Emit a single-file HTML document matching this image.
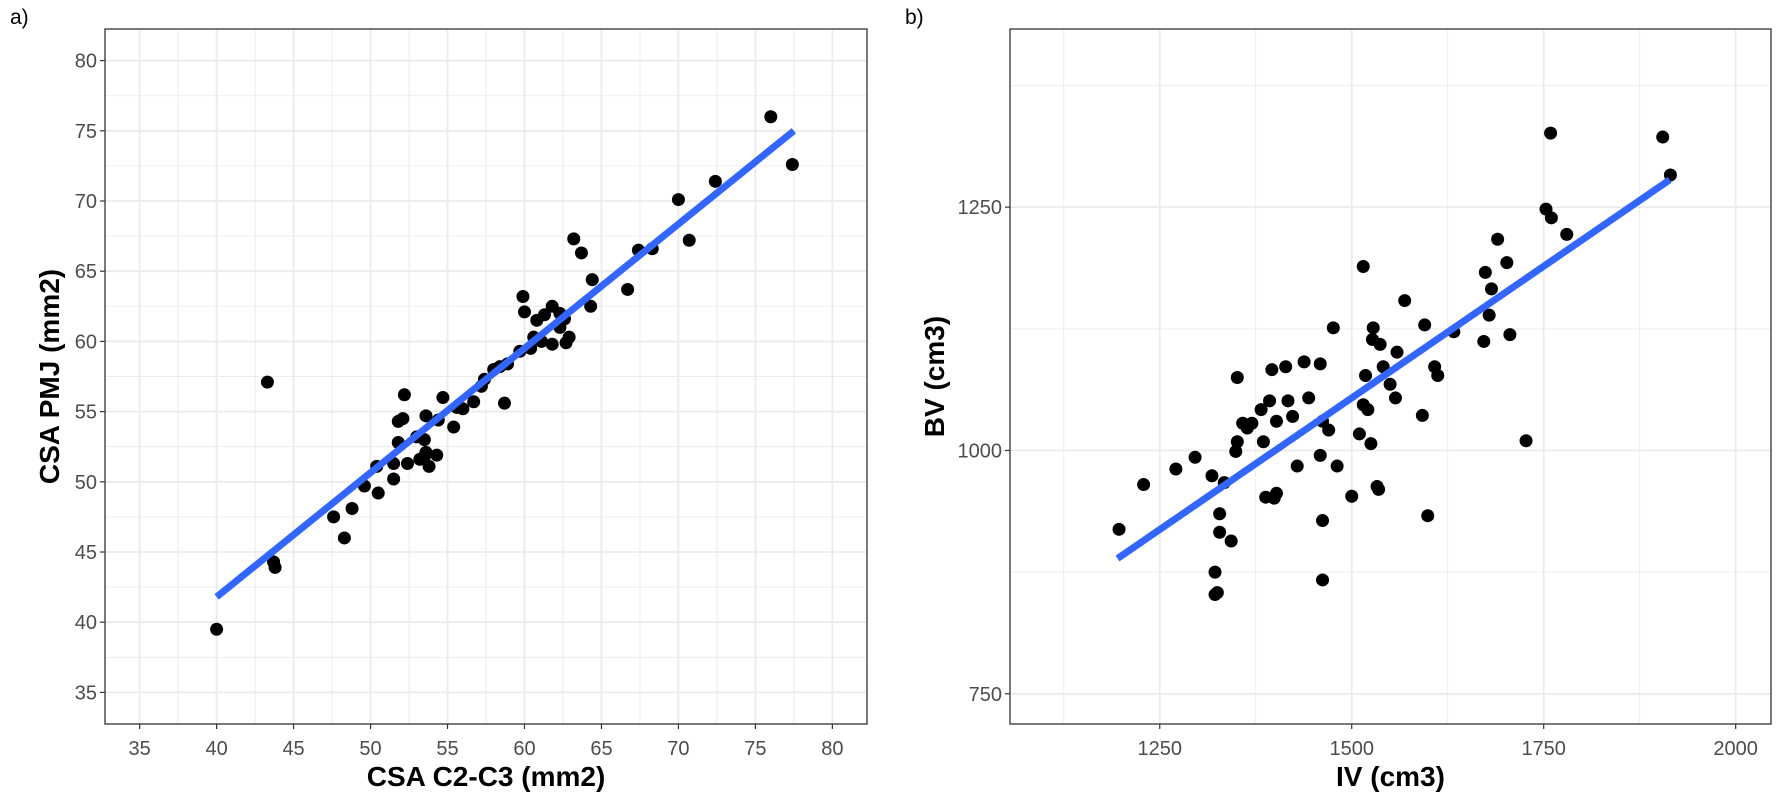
<!DOCTYPE html>
<html><head><meta charset="utf-8"><style>
html,body{margin:0;padding:0;background:#fff;}
svg{display:block;font-family:"Liberation Sans",Arial,sans-serif;}
</style></head><body>
<svg id="chart" width="1784" height="797" viewBox="0 0 1784 797" xmlns="http://www.w3.org/2000/svg">
<rect width="1784" height="797" fill="#fff"/>
</svg>
<script>
// Panel a data
const aX = [40.0,43.3,43.7,43.8,47.6,48.3,48.8,49.6,50.5,50.4,51.5,51.5,51.8,51.8,52.1,52.2,52.4,53.0,53.2,53.5,53.6,53.6,53.8,53.5,54.3,54.4,54.7,55.4,55.6,56.0,56.7,57.2,57.4,58.0,58.4,58.7,58.9,59.7,59.9,60.0,60.4,60.6,60.8,61.1,61.3,61.8,61.8,62.3,62.3,62.6,62.7,62.9,63.2,63.7,64.3,64.4,66.7,67.4,68.3,70.0,70.7,72.4,76.0,77.4];
const aY = [39.5,57.1,44.3,43.9,47.5,46.0,48.1,49.7,49.2,51.1,50.2,51.3,52.8,54.3,54.5,56.2,51.3,53.2,51.6,53.0,54.7,52.1,51.1,51.8,51.9,54.4,56.0,53.9,55.3,55.2,55.7,56.8,57.3,58.0,58.2,55.6,58.4,59.3,63.2,62.1,59.5,60.3,61.5,60.0,61.9,59.8,62.5,61.0,62.0,61.6,59.9,60.3,67.3,66.3,62.5,64.4,63.7,66.5,66.6,70.1,67.2,71.4,76.0,72.6];
const aFitX = [40.0, 77.5];
const aFitY = [41.8, 75.0];
const aTicks = [35,40,45,50,55,60,65,70,75,80];
// Panel b data
const bX = [1197,1229,1271,1296,1318,1328,1328,1322,1322,1325,1334,1343,1351,1349,1351,1358,1364,1370,1382,1385,1388,1393,1396,1399,1402,1402,1414,1417,1423,1429,1438,1444,1459,1459,1462,1462,1462,1470,1476,1481,1500,1510,1515,1515,1518,1521,1525,1527,1528,1533,1535,1537,1541,1550,1557,1559,1569,1592,1595,1608,1612,1599,1633,1672,1674,1679,1682,1690,1702,1706,1727,1753,1759,1760,1780,1905,1915];
const bY = [919,965,981,993,974,935,916,875,852,854,967,907,1075,999,1009,1028,1023,1028,1042,1009,952,1051,1083,951,956,1030,1086,1051,1035,984,1091,1054,1089,995,1030,928,867,1021,1126,984,953,1017,1189,1047,1077,1042,1007,1114,1126,963,960,1109,1086,1068,1054,1101,1154,1036,1129,1086,1077,933,1122,1112,1183,1139,1166,1217,1193,1119,1010,1248,1326,1239,1222,1322,1283];
const bFitX = [1195, 1914];
const bFitY = [889, 1278];
const bXTicks = [1250,1500,1750,2000];
const bYTicks = [750,1000,1250];

const NS = "http://www.w3.org/2000/svg";
const svg = document.getElementById('chart');
function mk(tag, attrs, parent){const e=document.createElementNS(NS,tag);for(const k in attrs)e.setAttribute(k,attrs[k]);(parent||svg).appendChild(e);return e;}

function panel(cfg){
  const g = mk('g',{});
  
  
  const sx = v => cfg.L + (v-cfg.x0)/(cfg.x1-cfg.x0)*(cfg.R-cfg.L);
  const sy = v => cfg.B - (v-cfg.y0)/(cfg.y1-cfg.y0)*(cfg.B-cfg.T);
  cfg.xMinor.forEach(v=>{const l=mk('line',{x1:sx(v),x2:sx(v),y1:cfg.T,y2:cfg.B,stroke:'#ebebeb','stroke-width':0.9},g);
    
    });
  cfg.yMinor.forEach(v=>{const l=mk('line',{x1:cfg.L,x2:cfg.R,y1:sy(v),y2:sy(v),stroke:'#ebebeb','stroke-width':0.9},g);
    
    });
  cfg.xTicks.forEach(v=>{const l=mk('line',{x1:sx(v),x2:sx(v),y1:cfg.T,y2:cfg.B,stroke:'#ebebeb','stroke-width':1.8},g);
    
    
    mk('line',{x1:sx(v),x2:sx(v),y1:cfg.B,y2:cfg.B+5,stroke:'#333','stroke-width':1.2},g);
    const t=mk('text',{x:sx(v),y:cfg.B+31,'text-anchor':'middle','font-size':20,fill:'#4d4d4d'},g);t.textContent=v;
    
    });
  cfg.yTicks.forEach(v=>{const l=mk('line',{x1:cfg.L,x2:cfg.R,y1:sy(v),y2:sy(v),stroke:'#ebebeb','stroke-width':1.8},g);
    
    
    mk('line',{x1:cfg.L-5,x2:cfg.L,y1:sy(v),y2:sy(v),stroke:'#333','stroke-width':1.2},g);
    const t=mk('text',{x:cfg.L-8,y:sy(v)+7,'text-anchor':'end','font-size':20,fill:'#4d4d4d'},g);t.textContent=v;
    
    });
  cfg.px.forEach((v,i)=>{const c=mk('circle',{cx:sx(v),cy:sy(cfg.py[i]),r:6.5,fill:'#000'},g);
    
    });
  const fl=mk('line',{x1:sx(cfg.fx[0]),y1:sy(cfg.fy[0]),x2:sx(cfg.fx[1]),y2:sy(cfg.fy[1]),stroke:'#3366ff','stroke-width':7},g);
  
  
  const b=mk('rect',{x:cfg.L,y:cfg.T,width:cfg.R-cfg.L,height:cfg.B-cfg.T,fill:'none',stroke:'#333','stroke-width':1.3},g);
  
  
  const xt=mk('text',{x:(cfg.L+cfg.R)/2,y:cfg.B+62,'text-anchor':'middle','font-size':28,'font-weight':'bold',fill:'#000'},g);xt.textContent=cfg.xTitle;
  
  
  const yt=mk('text',{x:0,y:0,'text-anchor':'middle','font-size':28,'font-weight':'bold',fill:'#000',transform:`translate(${cfg.yTitleX},${(cfg.T+cfg.B)/2}) rotate(-90)`},g);yt.textContent=cfg.yTitle;
  
  
  const pl=mk('text',{x:cfg.labelX,y:24,'font-size':21,fill:'#000'},g);pl.textContent=cfg.label;
  
  
}

panel({name:'panel-a',L:105,R:867,T:29,B:724,x0:32.75,x1:82.25,y0:32.75,y1:82.25,
  xTicks:aTicks,yTicks:aTicks,xMinor:aTicks.map(v=>v+2.5).slice(0,9),yMinor:aTicks.map(v=>v+2.5).slice(0,9),
  px:aX,py:aY,fx:aFitX,fy:aFitY,xTitle:'CSA C2-C3 (mm2)',yTitle:'CSA PMJ (mm2)',yTitleX:59,label:'a)',labelX:10});
panel({name:'panel-b',L:1010,R:1771,T:29,B:724,x0:1055,x1:2046,y0:719,y1:1433,
  xTicks:bXTicks,yTicks:bYTicks,xMinor:[1125,1375,1625,1875],yMinor:[875,1125,1375],
  px:bX,py:bY,fx:bFitX,fy:bFitY,xTitle:'IV (cm3)',yTitle:'BV (cm3)',yTitleX:944,label:'b)',labelX:905});
</script>
</body></html>
